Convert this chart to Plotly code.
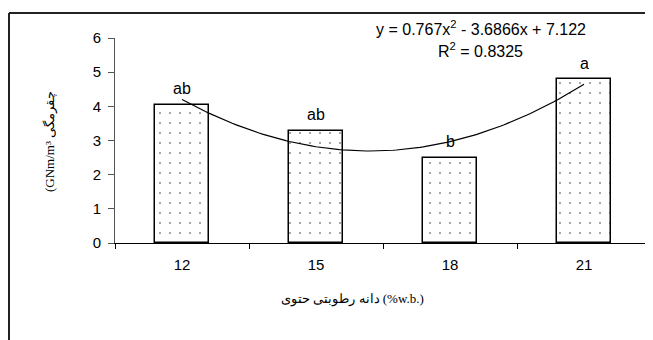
import numpy as np
import plotly.graph_objects as go

# ---- data ----
categories = ["12", "15", "18", "21"]
toughness = [4.05, 3.28, 2.50, 4.80]
letters = ["ab", "ab", "b", "a"]
trend_coef = [0.767, -3.6866, 7.122]   # y = a x^2 + b x + c, x = 1..4
trend_label = "y = 0.767x<sup>2</sup> - 3.6866x + 7.122"
r2_label = "R<sup>2</sup> = 0.8325"
y_ticks = [0, 1, 2, 3, 4, 5, 6]
LRI, PDI = "\u2066", "\u2069"
x_title = (LRI + "حتوی" + PDI + " " + LRI + "رطوبتی" + PDI + " " + LRI + "دانه" + PDI
           + " (%w.b.)")
y_title = "(GNm/m³ چقرمگی"

OFF = 8                      # page body margin
W, H = 653 - OFF, 340 - OFF
# plot area in reference page pixels: x 115..651, y 38..243
L, R, T, B = 115 - OFF, 653 - 651, 38 - OFF, 340 - 243
PW, PH = W - L - R, H - T - B


def px(x):   # reference page x -> paper
    return (x - OFF - L) / PW


def py(y):   # reference page y -> paper
    return (H - B - (y - OFF)) / PH


fig = go.Figure()

fig.add_trace(go.Bar(
    x=categories, y=toughness, width=0.405,
    marker=dict(color="white", line=dict(color="black", width=1.5),
                pattern=dict(shape=".", size=10, solidity=0.03,
                             fgcolor="#111111", bgcolor="white")),
    showlegend=False, hoverinfo="skip",
))

xs = np.linspace(1, 4, 121)
ys = np.polyval(trend_coef, xs)
fig.add_trace(go.Scatter(
    x=xs, y=ys, xaxis="x2", yaxis="y", mode="lines",
    line=dict(color="black", width=1.2), showlegend=False, hoverinfo="skip",
))

for i, (v, t) in enumerate(zip(toughness, letters)):
    fig.add_annotation(x=i, y=v, xref="x", yref="y", text=t, showarrow=False,
                       yanchor="middle", yshift=16,
                       font=dict(family="Liberation Sans, Arial", size=16, color="black"))

fig.add_annotation(x=px(481), y=py(28), xref="paper", yref="paper", text=trend_label,
                   showarrow=False, xanchor="center", yanchor="middle",
                   font=dict(family="Liberation Sans, Arial", size=16, color="black"))
fig.add_annotation(x=px(480), y=py(50), xref="paper", yref="paper", text=r2_label,
                   showarrow=False, xanchor="center", yanchor="middle",
                   font=dict(family="Liberation Sans, Arial", size=16, color="black"))

fig.add_annotation(x=px(352), y=py(299), xref="paper", yref="paper", text=x_title,
                   showarrow=False, xanchor="center", yanchor="middle",
                   font=dict(family="Liberation Serif, Times New Roman, serif", size=13, color="black"))
fig.add_annotation(x=px(50), y=py(142), xref="paper", yref="paper", text=y_title,
                   showarrow=False, xanchor="center", yanchor="middle", textangle=-90,
                   font=dict(family="Liberation Serif, Times New Roman, serif", size=13, color="black"))

# outer frame (left and top edges visible)
fig.add_shape(type="line", xref="paper", yref="paper", x0=px(9), x1=px(9), y0=py(13), y1=py(360),
              line=dict(color="#222222", width=2))
fig.add_shape(type="line", xref="paper", yref="paper", x0=px(9), x1=px(680), y0=py(13), y1=py(13),
              line=dict(color="#222222", width=2))

fig.update_layout(
    width=W, height=H,
    margin=dict(l=L, r=R, t=T, b=B),
    paper_bgcolor="white", plot_bgcolor="white",
    bargap=0,
    font=dict(family="Liberation Sans, Arial", size=15, color="black"),
    xaxis=dict(type="category", range=[-0.5, 3.5], showline=True, linecolor="black", linewidth=1,
               ticks="outside", tickson="boundaries", ticklen=5, tickcolor="black",
               showgrid=False, zeroline=False, tickfont=dict(size=15), ticklabelstandoff=8),
    xaxis2=dict(overlaying="x", range=[0.5, 4.5], visible=False),
    yaxis=dict(range=[0, 6], tickvals=y_ticks, showline=True, linecolor="#555555", linewidth=1,
               ticks="outside", ticklen=6, tickcolor="#555555", showgrid=False, zeroline=False,
               tickfont=dict(size=15), ticklabelstandoff=4),
)

fig.write_html("out.html")
